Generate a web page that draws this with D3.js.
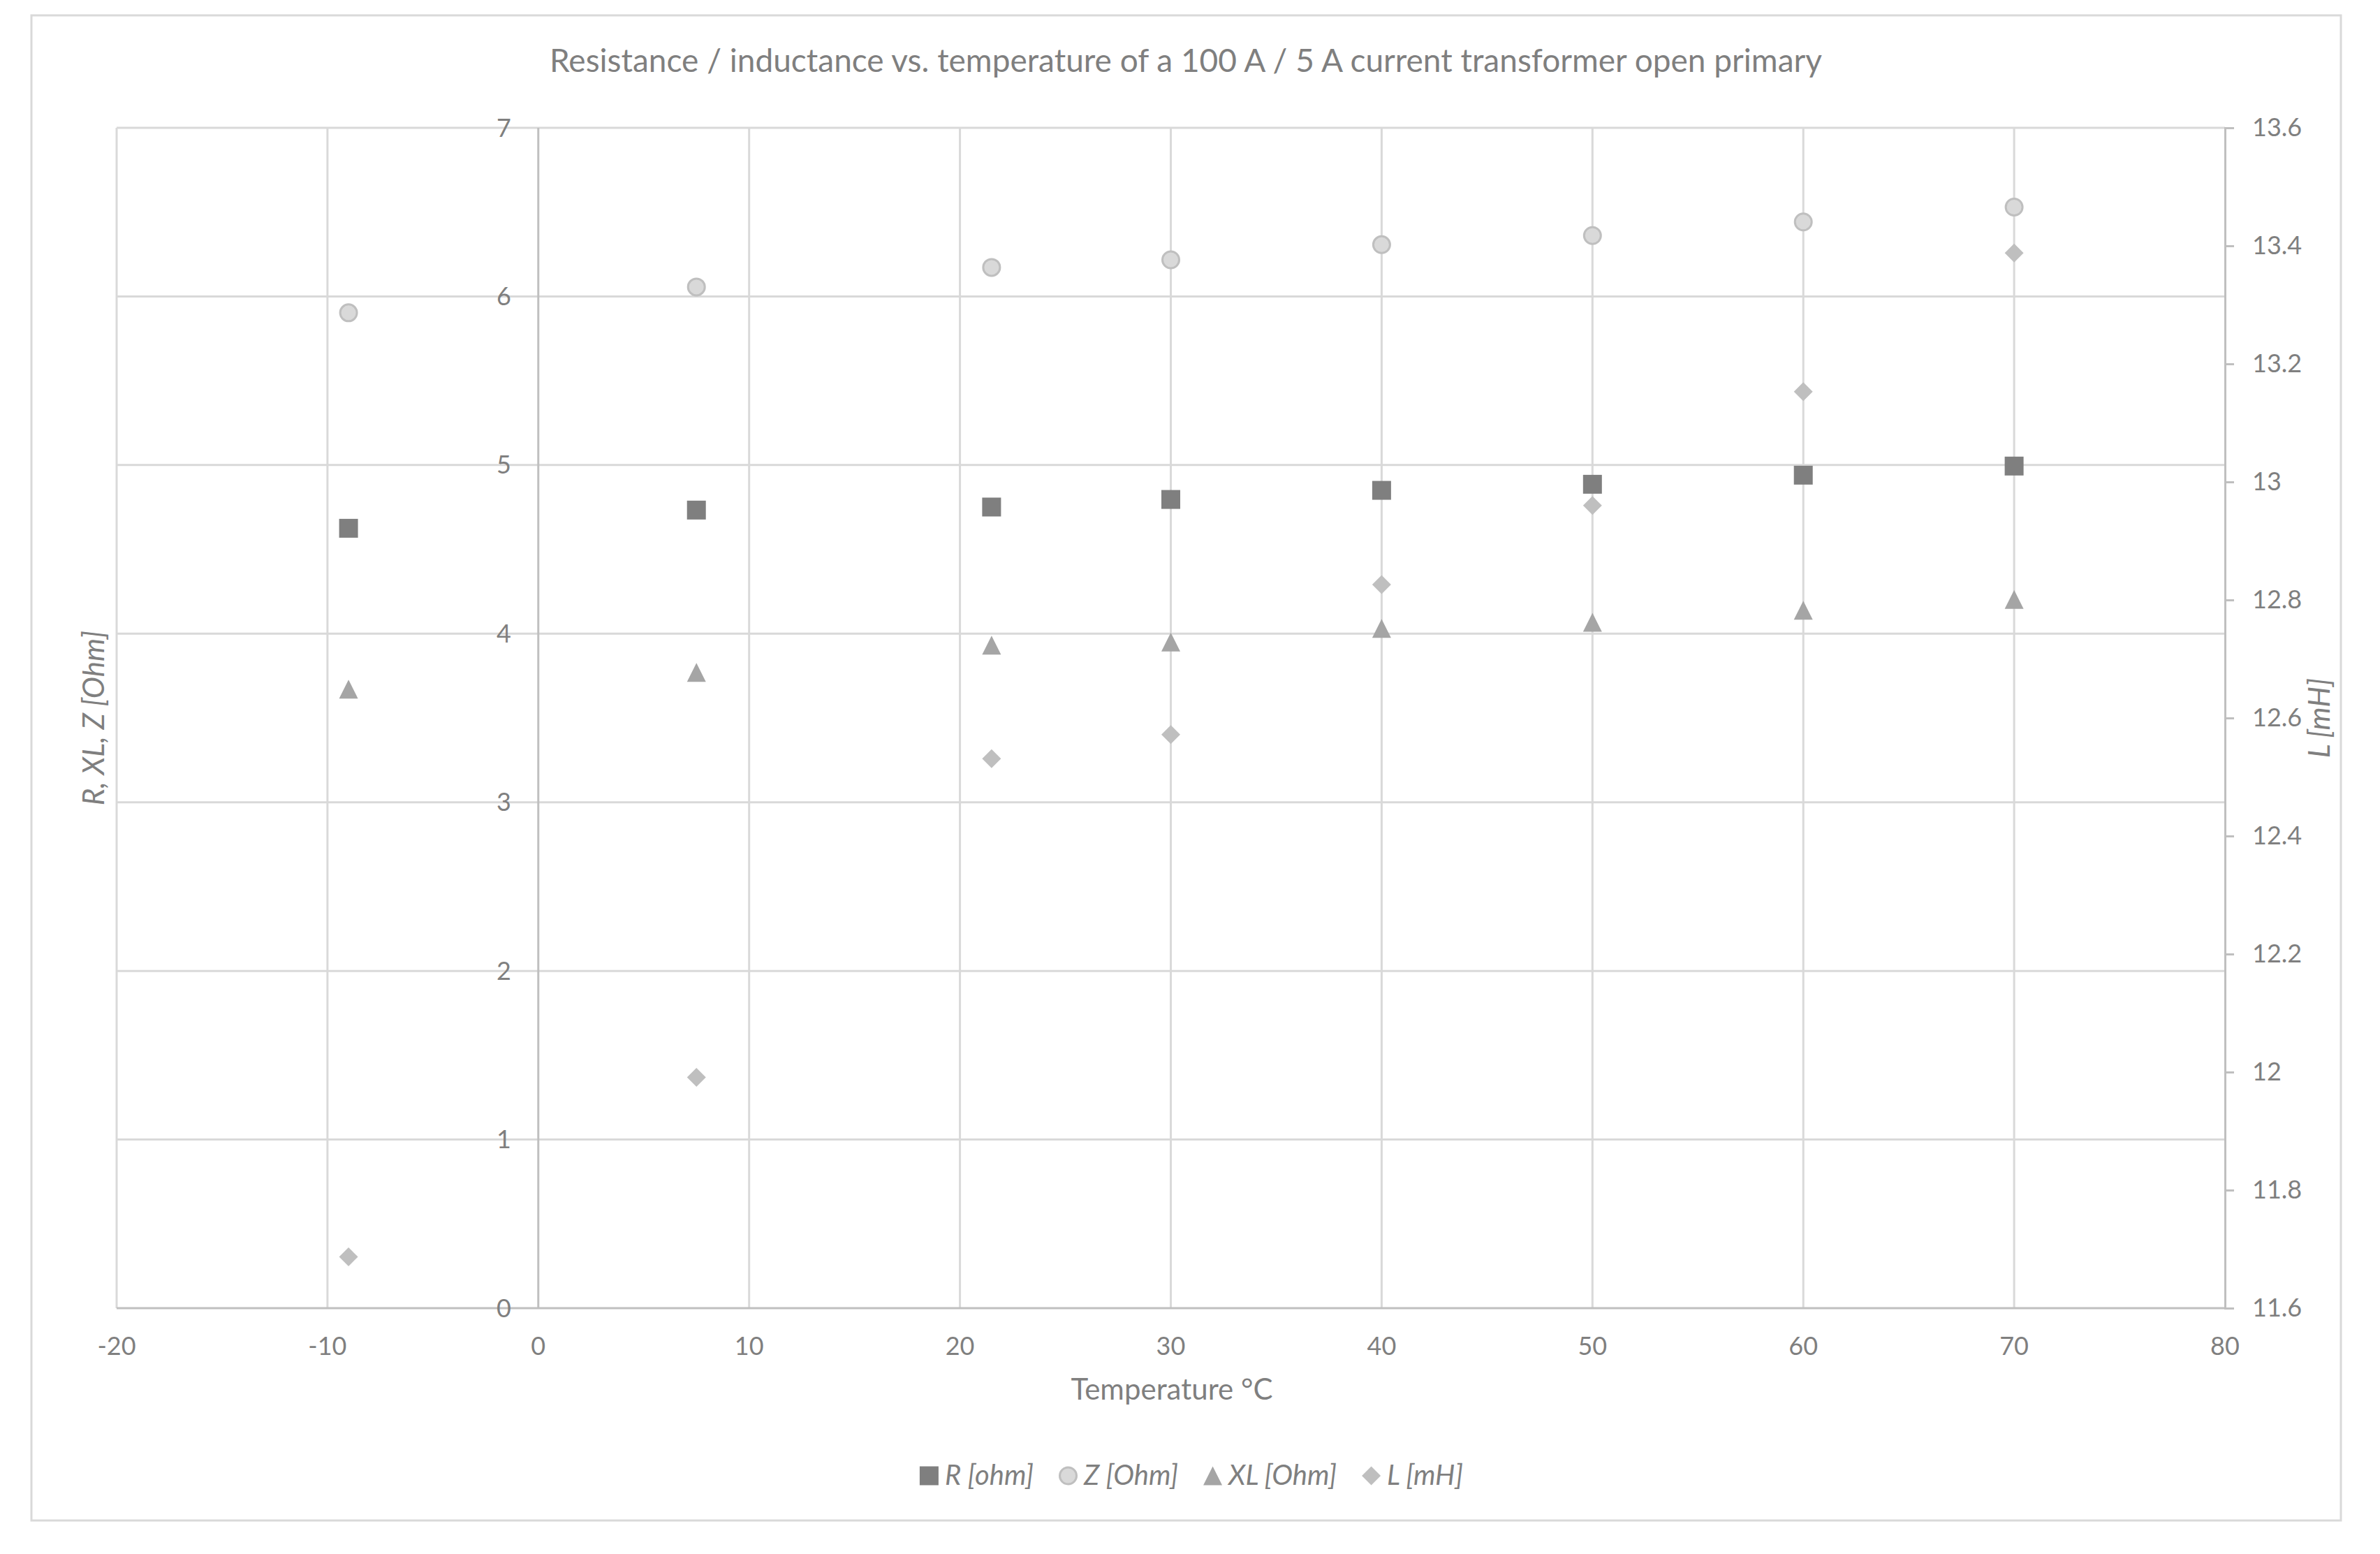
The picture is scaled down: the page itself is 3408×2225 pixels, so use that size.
<!DOCTYPE html>
<html>
<head>
<meta charset="utf-8">
<script src="https://cdn.jsdelivr.net/npm/d3@7"></script>
<style>
  html, body { margin: 0; padding: 0; background: #fff; }
  text { font-family: Lato, "Open Sans", sans-serif; fill: #7f7f7f; }
</style>
</head>
<body>
<div id="chart"></div>
<script>
const temps = [-9, 7.5, 21.5, 30, 40, 50, 60, 70];
const rOhm = [4.625, 4.733, 4.751, 4.796, 4.850, 4.886, 4.940, 4.994];
const zOhm = [5.903, 6.056, 6.172, 6.217, 6.307, 6.361, 6.442, 6.530];
const xlOhm = [3.671, 3.770, 3.932, 3.950, 4.031, 4.067, 4.139, 4.203];
const lmH = [11.687, 11.991, 12.531, 12.572, 12.826, 12.960, 13.153, 13.388];

const xTicks = [-20, -10, 0, 10, 20, 30, 40, 50, 60, 70, 80];
const leftTicks = [0, 1, 2, 3, 4, 5, 6, 7];
const rightTicks = [11.6, 11.8, 12, 12.2, 12.4, 12.6, 12.8, 13, 13.2, 13.4, 13.6];

const title = 'Resistance / inductance vs. temperature of a 100 A / 5 A current transformer open primary';

const W = 3408, H = 2225;
const plot = { left: 167, right: 3186, top: 183, bottom: 1873 };

const svg = d3.select('#chart').append('svg')
        .attr('width', W)
        .attr('height', H);

svg.append('rect').attr('width', W).attr('height', H).attr('fill', '#fff');

// outer chart border
svg.append('rect')
        .attr('x', 45).attr('y', 22)
        .attr('width', 3352 - 45).attr('height', 2177 - 22)
        .attr('fill', 'none')
        .attr('stroke', '#d9d9d9')
        .attr('stroke-width', 3);

const x = d3.scaleLinear().domain([-20, 80]).range([plot.left, plot.right]);
const yL = d3.scaleLinear().domain([0, 7]).range([plot.bottom, plot.top]);
const yR = d3.scaleLinear().domain([11.6, 13.6]).range([plot.bottom, plot.top]);

// gridlines
const grid = svg.append('g').attr('stroke', '#d9d9d9').attr('stroke-width', 3);
grid.selectAll('.hg').data(leftTicks.filter(d => d > 0)).join('line')
        .attr('x1', plot.left).attr('x2', plot.right)
        .attr('y1', d => yL(d)).attr('y2', d => yL(d));
grid.selectAll('.vg').data(xTicks.filter(d => d !== 0 && d !== 80)).join('line')
        .attr('x1', d => x(d)).attr('x2', d => x(d))
        .attr('y1', plot.top).attr('y2', plot.bottom);

// axes lines (y crosses at x = 0)
const axisColor = '#bfbfbf';
svg.append('line')
        .attr('x1', plot.left).attr('x2', plot.right)
        .attr('y1', yL(0)).attr('y2', yL(0))
        .attr('stroke', axisColor).attr('stroke-width', 3);
svg.append('line')
        .attr('x1', x(0)).attr('x2', x(0))
        .attr('y1', plot.top).attr('y2', plot.bottom)
        .attr('stroke', axisColor).attr('stroke-width', 3);

// secondary axis on the right, with outward ticks
const rightAxis = svg.append('g')
        .attr('transform', `translate(${plot.right},0)`)
        .call(d3.axisRight(yR).tickValues(rightTicks).tickSize(13).tickPadding(26)
                .tickFormat(d => String(+d.toFixed(1))));
rightAxis.select('.domain').attr('stroke', axisColor).attr('stroke-width', 3);
rightAxis.selectAll('.tick line').attr('stroke', axisColor).attr('stroke-width', 3);
rightAxis.selectAll('.tick text')
        .attr('fill', '#7f7f7f')
        .style('font-size', '36px')
        .style('font-family', 'Lato, sans-serif');

// left tick labels sit beside the y axis at x = 0
svg.append('g').selectAll('text').data(leftTicks).join('text')
        .attr('x', x(0) - 39)
        .attr('y', d => yL(d))
        .attr('dy', '0.35em')
        .attr('text-anchor', 'end')
        .style('font-size', '36px')
        .text(d => d);

// x tick labels below the plot
svg.append('g').selectAll('text').data(xTicks).join('text')
        .attr('x', d => x(d))
        .attr('y', 1940)
        .attr('text-anchor', 'middle')
        .style('font-size', '36px')
        .text(d => d);

// title and axis titles
svg.append('text')
        .attr('x', 1698).attr('y', 103)
        .attr('text-anchor', 'middle')
        .style('font-size', '46px')
        .text(title);

svg.append('text')
        .attr('x', 1678).attr('y', 2004)
        .attr('text-anchor', 'middle')
        .style('font-size', '42px')
        .text('Temperature °C');

svg.append('text')
        .attr('transform', `translate(149, ${(plot.top + plot.bottom) / 2}) rotate(-90)`)
        .attr('text-anchor', 'middle')
        .style('font-size', '42px')
        .style('font-style', 'italic')
        .text('R, XL, Z [Ohm]');

svg.append('text')
        .attr('transform', `translate(3336, ${(plot.top + plot.bottom) / 2}) rotate(-90)`)
        .attr('text-anchor', 'middle')
        .style('font-size', '42px')
        .style('font-style', 'italic')
        .text('L [mH]');

// marker shapes, all centred on their bounding box
const S = 27;
const shapes = {
        square: () => { const p = d3.path(); p.rect(-S / 2, -S / 2, S, S); return p.toString(); },
        circle: () => { const p = d3.path(); p.arc(0, 0, 12, 0, 2 * Math.PI); p.closePath(); return p.toString(); },
        triangle: () => { const p = d3.path(); p.moveTo(0, -S / 2); p.lineTo(S / 2, S / 2); p.lineTo(-S / 2, S / 2); p.closePath(); return p.toString(); },
        diamond: () => { const p = d3.path(); p.moveTo(0, -S / 2); p.lineTo(S / 2, 0); p.lineTo(0, S / 2); p.lineTo(-S / 2, 0); p.closePath(); return p.toString(); }
};

const series = [
        { name: 'R [ohm]', values: rOhm, y: yL, shape: 'square', fill: '#7f7f7f', stroke: 'none' },
        { name: 'Z [Ohm]', values: zOhm, y: yL, shape: 'circle', fill: '#d9d9d9', stroke: '#bfbfbf' },
        { name: 'XL [Ohm]', values: xlOhm, y: yL, shape: 'triangle', fill: '#a5a5a5', stroke: 'none' },
        { name: 'L [mH]', values: lmH, y: yR, shape: 'diamond', fill: '#bfbfbf', stroke: 'none' }
];

series.forEach(s => {
        svg.append('g').selectAll('path')
                .data(s.values.map((v, i) => [temps[i], v]))
                .join('path')
                .attr('d', shapes[s.shape]())
                .attr('transform', d => `translate(${x(d[0])},${s.y(d[1])})`)
                .attr('fill', s.fill)
                .attr('stroke', s.stroke)
                .attr('stroke-width', 3);
});

// legend, centred under the plot
const legend = svg.append('g');
let lx = 0;
series.forEach(s => {
        const item = legend.append('g').attr('transform', `translate(${lx},0)`);
        item.append('path')
                .attr('d', shapes[s.shape]())
                .attr('transform', `translate(${S / 2},0)`)
                .attr('fill', s.fill)
                .attr('stroke', s.stroke)
                .attr('stroke-width', 3);
        const t = item.append('text')
                .attr('x', S + 9)
                .attr('y', 13)
                .style('font-size', '40px')
                .style('font-style', 'italic')
                .text(s.name);
        lx += S + 9 + t.node().getComputedTextLength() + 36;
});
const legendWidth = lx - 36;
legend.attr('transform', `translate(${1706 - legendWidth / 2},2113)`);
</script>
</body>
</html>
